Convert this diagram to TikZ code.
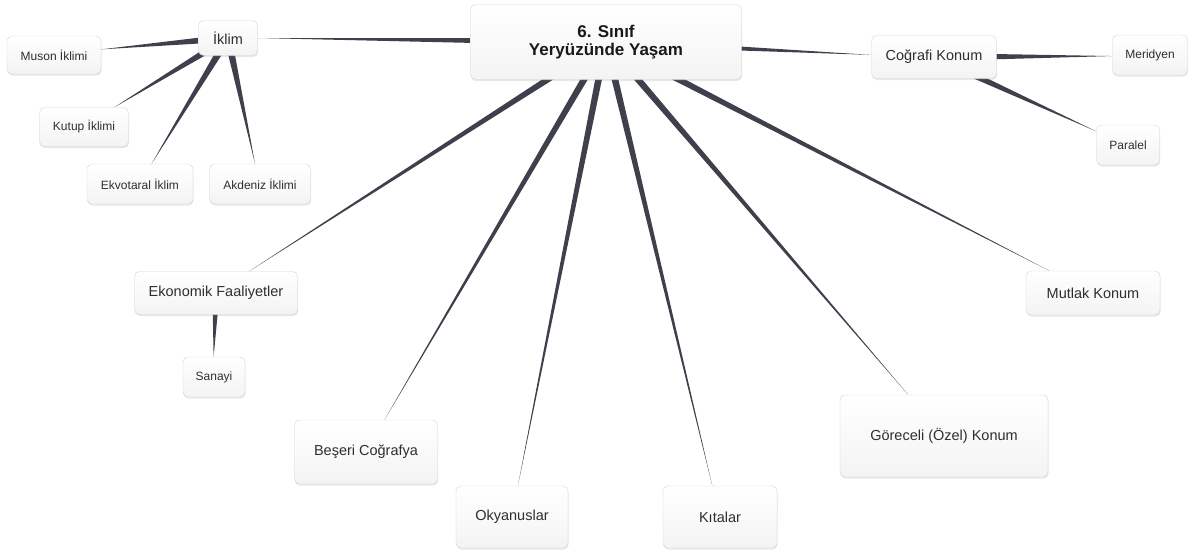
\documentclass[tikz,border=0pt]{standalone}
\usepackage{fontspec}
\setmainfont{Liberation Sans}
\usetikzlibrary{shapes,positioning,calc}
\usetikzlibrary{shadows,backgrounds}
\definecolor{linkgray}{RGB}{62,64,76}
\definecolor{boxline}{RGB}{212,212,214}
\tikzstyle{topic} = [rectangle, rounded corners=5pt, draw=boxline, top color=white, bottom color=gray!9, drop shadow={opacity=0.18, shadow xshift=0.6pt, shadow yshift=-1.6pt}, inner sep=0pt, align=center, font=\fontsize{14.5}{16}\selectfont, text=black!82]
\tikzstyle{leaf} = [topic, font=\fontsize{12}{14}\selectfont]
\newcommand{\taper}[3]{\fill[linkgray] ($(#1)!#3!90:(#2)$) -- ($(#1)!#3!-90:(#2)$) -- (#2) -- cycle;}

\begin{document}
\begin{tikzpicture}[x=1pt, y=-1pt]
		\useasboundingbox (0,0) rectangle (1194,554);
		
		% TOPICS
		
		\node [topic, minimum width=271pt, minimum height=75pt, font=\bfseries\fontsize{17}{18}\selectfont, text=black!90] (root) at (606,42) {6. Sınıf\\Yeryüzünde Yaşam};
		
		\node [topic, minimum width=59pt, minimum height=35pt] (iklim) at (228,38) {İklim};
		\node [leaf, minimum width=94pt, minimum height=38pt] (muson) at (54,55) {Muson İklimi};
		\node [leaf, minimum width=89pt, minimum height=39pt] (kutup) at (84,127) {Kutup İklimi};
		\node [leaf, minimum width=106pt, minimum height=40pt] (ekvator) at (140,184) {Ekvotaral İklim};
		\node [leaf, minimum width=101pt, minimum height=40pt] (akdeniz) at (260,184) {Akdeniz İklimi};
		
		\node [topic, minimum width=125pt, minimum height=43pt] (cografi) at (934,57) {Coğrafi Konum};
		\node [leaf, minimum width=75pt, minimum height=40pt] (meridyen) at (1150,55) {Meridyen};
		\node [leaf, minimum width=63pt, minimum height=40pt] (paralel) at (1128,145) {Paralel};
		
		\node [topic, minimum width=163pt, minimum height=43pt] (ekonomik) at (216,293) {Ekonomik Faaliyetler};
		\node [leaf, minimum width=62pt, minimum height=40pt] (sanayi) at (214,377) {Sanayi};
		
		\node [topic, minimum width=134pt, minimum height=44pt] (mutlak) at (1093,293) {Mutlak Konum};
		\node [topic, minimum width=143pt, minimum height=64pt] (beseri) at (366,452) {Beşeri Coğrafya};
		\node [topic, minimum width=112pt, minimum height=62pt] (okyanus) at (512,517) {Okyanuslar};
		\node [topic, minimum width=114pt, minimum height=62pt] (kita) at (720,517) {Kıtalar};
		\node [topic, minimum width=208pt, minimum height=82pt] (goreceli) at (944,436) {Göreceli (Özel) Konum};
		
		% LINKS
		
		\begin{pgfonlayer}{background}
			\taper{root}{iklim}{4pt}
			\taper{root}{cografi}{4pt}
			\taper{root}{ekonomik}{3.6pt}
			\taper{root}{beseri}{3.6pt}
			\taper{root}{okyanus}{3.6pt}
			\taper{root}{kita}{3.6pt}
			\taper{root}{goreceli}{3.6pt}
			\taper{root}{mutlak}{3.6pt}
			\taper{iklim}{muson}{3.8pt}
			\taper{iklim}{kutup}{3.8pt}
			\taper{iklim}{ekvator}{3.8pt}
			\taper{iklim}{akdeniz}{3.8pt}
			\taper{cografi}{meridyen}{4pt}
			\taper{cografi}{paralel}{4pt}
			\taper{ekonomik}{sanayi}{3.6pt}
		\end{pgfonlayer}
		
\end{tikzpicture}
\end{document}
